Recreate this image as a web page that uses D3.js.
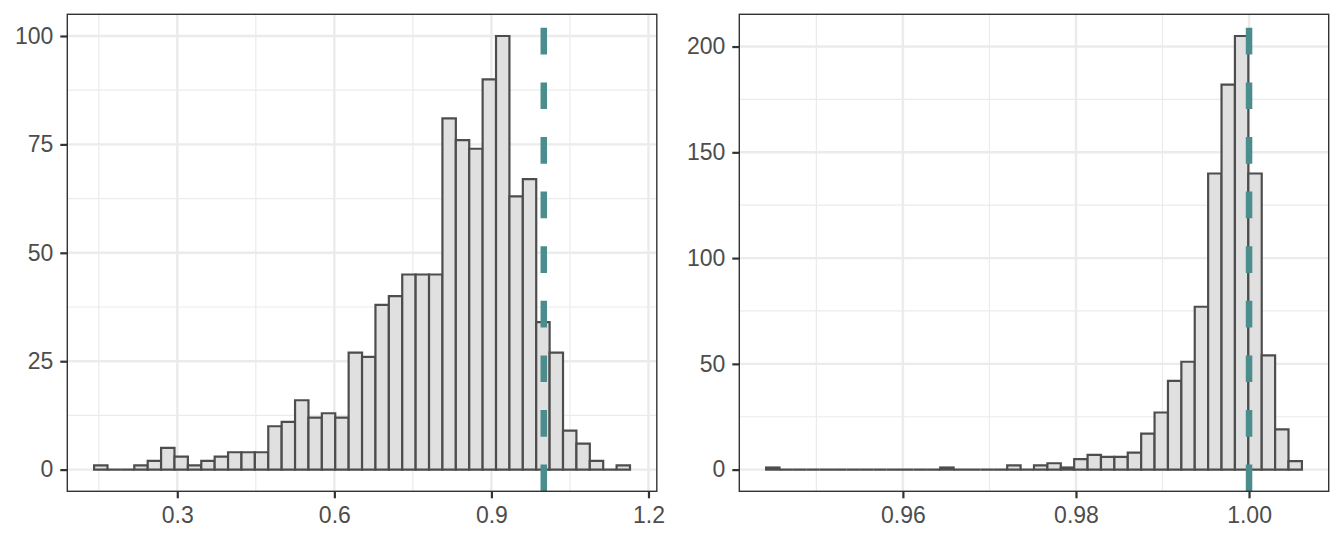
<!DOCTYPE html>
<html>
<head>
<meta charset="utf-8">
<script src="https://cdn.jsdelivr.net/npm/d3@7"></script>
<style>
  body { margin: 0; background: #fff; }
  .axis text { font-family: "Liberation Sans", Arial, sans-serif; font-size: 23px; fill: #4d4d4d; }
  .axis line { stroke: #333333; stroke-width: 2.2; }
  .axis path { display: none; }
</style>
</head>
<body>
<div id="chart"></div>
<script>
// histogram counts, 40 bins each
var leftCounts = [1, 0, 0, 1, 2, 5, 3, 1, 2, 3, 4, 4, 4, 10, 11, 16, 12, 13, 12, 27,
                  26, 38, 40, 45, 45, 45, 81, 76, 74, 90, 100, 63, 67, 34, 27, 9, 6, 2, 0, 1];
var leftBinStart = 0.1411, leftBinWidth = 0.02559;
var leftXTicks = [0.3, 0.6, 0.9, 1.2];
var leftYTicks = [0, 25, 50, 75, 100];

var rightCounts = [1, 0, 0, 0, 0, 0, 0, 0, 0, 0, 0, 0, 0, 1, 0, 0, 0, 0, 2, 0,
                   2, 3, 1, 5, 7, 6, 6, 8, 17, 27, 42, 51, 77, 140, 182, 205, 140, 54, 19, 4];
var rightBinStart = 0.94419, rightBinWidth = 0.001548;
var rightXTicks = [0.96, 0.98, 1.00];
var rightYTicks = [0, 50, 100, 150, 200];

var refValue = 1.0;

var W = 1344, H = 537;
var svg = d3.select("#chart").append("svg")
    .attr("width", W)
    .attr("height", H);

function midpoints(ticks) {
    var step = ticks[1] - ticks[0];
    var out = [ticks[0] - step / 2];
    ticks.forEach(function(t) { out.push(t + step / 2); });
    return out;
}

function drawPanel(counts, binStart, binWidth, xTicks, yTicks, xFmt, box) {
    var bins = counts.map(function(c, i) {
        return {x0: binStart + i * binWidth, x1: binStart + (i + 1) * binWidth, n: c};
    });
    var xmin = bins[0].x0, xmax = bins[bins.length - 1].x1;
    var xpad = (xmax - xmin) * 0.05;
    var ymax = d3.max(counts), ypad = ymax * 0.05;

    var x = d3.scaleLinear().domain([xmin - xpad, xmax + xpad]).range([box.left, box.right]);
    var y = d3.scaleLinear().domain([-ypad, ymax + ypad]).range([box.bottom, box.top]);
    var xd = x.domain(), yd = y.domain();

    var g = svg.append("g");

    // minor grid
    g.selectAll(".xminor").data(midpoints(xTicks).filter(function(v) { return v > xd[0] && v < xd[1]; }))
      .enter().append("line")
        .attr("x1", function(d) { return x(d); }).attr("x2", function(d) { return x(d); })
        .attr("y1", box.top).attr("y2", box.bottom)
        .attr("stroke", "#ebebeb").attr("stroke-width", 1.2);
    g.selectAll(".yminor").data(midpoints(yTicks).filter(function(v) { return v > yd[0] && v < yd[1]; }))
      .enter().append("line")
        .attr("y1", function(d) { return y(d); }).attr("y2", function(d) { return y(d); })
        .attr("x1", box.left).attr("x2", box.right)
        .attr("stroke", "#ebebeb").attr("stroke-width", 1.2);
    // major grid
    g.selectAll(".xmajor").data(xTicks).enter().append("line")
        .attr("x1", function(d) { return x(d); }).attr("x2", function(d) { return x(d); })
        .attr("y1", box.top).attr("y2", box.bottom)
        .attr("stroke", "#ebebeb").attr("stroke-width", 2.4);
    g.selectAll(".ymajor").data(yTicks).enter().append("line")
        .attr("y1", function(d) { return y(d); }).attr("y2", function(d) { return y(d); })
        .attr("x1", box.left).attr("x2", box.right)
        .attr("stroke", "#ebebeb").attr("stroke-width", 2.4);

    // bars as paths so empty bins still show their outline on the baseline
    g.selectAll("path.bar").data(bins).enter().append("path")
        .attr("class", "bar")
        .attr("d", function(d) {
            return "M" + x(d.x0) + "," + y(0) + "V" + y(d.n) + "H" + x(d.x1) + "V" + y(0) + "Z";
        })
        .attr("fill", "#e0e0e0")
        .attr("stroke", "#4d4d4d")
        .attr("stroke-width", 2.2);

    // reference line, dashes start at the bottom
    g.append("line")
        .attr("x1", x(refValue)).attr("x2", x(refValue))
        .attr("y1", box.bottom).attr("y2", box.top)
        .attr("stroke", "#4b8d8d")
        .attr("stroke-width", 6.5)
        .attr("stroke-dasharray", "26.7 27.9");

    // panel border
    g.append("rect")
        .attr("x", box.left).attr("y", box.top)
        .attr("width", box.right - box.left).attr("height", box.bottom - box.top)
        .attr("fill", "none").attr("stroke", "#333333").attr("stroke-width", 1.4);

    g.append("g").attr("class", "axis")
        .attr("transform", "translate(0," + box.bottom + ")")
        .call(d3.axisBottom(x).tickValues(xTicks).tickFormat(d3.format(xFmt)).tickSizeOuter(0).tickSize(7).tickPadding(8));
    g.append("g").attr("class", "axis")
        .attr("transform", "translate(" + box.left + ",0)")
        .call(d3.axisLeft(y).tickValues(yTicks).tickSizeOuter(0).tickSize(7).tickPadding(7));
}

drawPanel(leftCounts, leftBinStart, leftBinWidth, leftXTicks, leftYTicks, ".1f",
          {left: 67.3, right: 656.8, top: 14.3, bottom: 491.3});
drawPanel(rightCounts, rightBinStart, rightBinWidth, rightXTicks, rightYTicks, ".2f",
          {left: 739.3, right: 1328.7, top: 14.3, bottom: 491.3});
</script>
</body>
</html>
